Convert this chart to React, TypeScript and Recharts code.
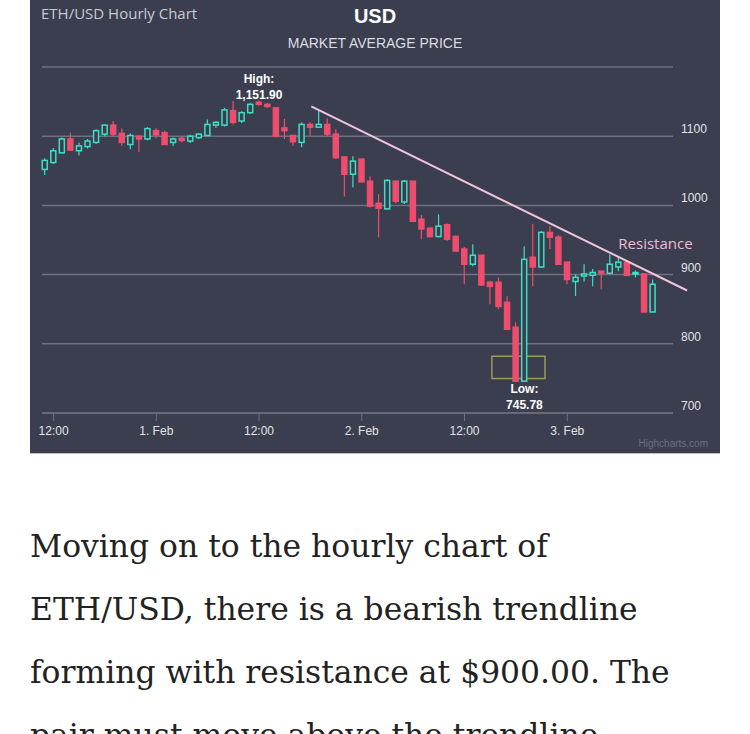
import React from "react";
import {
  ComposedChart,
  Bar,
  XAxis,
  YAxis,
  CartesianGrid,
  ReferenceLine,
  ReferenceDot,
  ReferenceArea,
} from "recharts";

// hourly candles, index 0 = 31 Jan 11:00
const hours = Array.from({ length: 72 }, (_, i) => i);
const opens = [
  1052, 1062, 1076, 1096, 1079, 1085, 1091, 1103, 1116, 1104, 1088, 1100, 1096, 1108, 1105, 1091, 1097, 1093,
  1098, 1101, 1116, 1116, 1137, 1122, 1134, 1149, 1146, 1141, 1112, 1101, 1091, 1117, 1113, 1117, 1103, 1070,
  1045, 1067, 1035, 1003, 995, 1035, 1005, 1035, 980, 967, 955, 972, 955, 937, 915, 928, 889, 889,
  860, 824, 746, 925, 911, 961, 954, 918, 890, 898, 899, 905, 902, 911, 918, 901, 901, 846,
];
const highs = [
  1068, 1083, 1098, 1105, 1091, 1096, 1110, 1117, 1122, 1111, 1104, 1100, 1113, 1112, 1108, 1098, 1099, 1102,
  1104, 1124, 1122, 1141, 1151, 1136, 1148, 1151.9, 1148, 1142, 1125, 1102, 1120, 1120, 1137, 1126, 1110, 1071,
  1071, 1067, 1042, 1016, 1038, 1035, 1037, 1035, 986, 968, 987, 974, 957, 940, 944, 928, 891, 896,
  869, 831, 941, 973, 963, 970, 957, 918, 900, 915, 908, 905, 929, 927, 921, 906, 901, 893,
];
const lows = [
  1044, 1060, 1075, 1079, 1072, 1082, 1089, 1100, 1100, 1086, 1081, 1077, 1094, 1097, 1088, 1086, 1091, 1090,
  1096, 1100, 1112, 1114, 1117, 1119, 1132, 1144, 1141, 1098, 1096, 1086, 1084, 1100, 1113, 1100, 1067, 1013,
  1026, 1034, 997, 954, 994, 1003, 1002, 977, 951, 954, 954, 949, 934, 886, 912, 884, 857, 850,
  821, 748, 745.78, 883, 910, 937, 915, 886, 869, 890, 883, 879, 901, 905, 899, 896, 846, 845,
];
const closes = [
  1065, 1079, 1096, 1080, 1086, 1093, 1108, 1116, 1103, 1091, 1101, 1096, 1111, 1102, 1088, 1096, 1094, 1100,
  1103, 1117, 1120, 1138, 1120, 1134, 1146, 1146, 1143, 1100, 1108, 1092, 1117, 1113, 1117, 1103, 1069, 1045,
  1064, 1034, 999, 996, 1036, 1006, 1035, 977, 966, 955, 970, 951, 934, 915, 928, 885, 883, 854,
  821, 746, 922, 911, 961, 954, 915, 893, 896, 901, 903, 902, 915, 918, 899, 903, 846, 886,
];

const xTicks = [1, 13, 25, 37, 49, 61];
const xTickLabels = ["12:00", "1. Feb", "12:00", "2. Feb", "12:00", "3. Feb"];
const yTicks = [700, 800, 900, 1000, 1100, 1200];

// trendline and annotations, in data units
const trendStart = { x: 31.1, y: 1143 };
const trendEnd = { x: 75, y: 877 };
const highPoint = { x: 25, y: 1151.9, label: "1,151.90" };
const lowPoint = { x: 56, y: 745.78, label: "745.78" };

const data = hours.map((t, i) => ({
  t,
  open: opens[i],
  high: highs[i],
  low: lows[i],
  close: closes[i],
  range: [lows[i], highs[i]],
}));

const UP = "#3de0c4";
const DOWN = "#ef4d6d";
const BG = "#3a3e4f";

const Candle = (props: any) => {
  const { x, y, width, height, payload } = props;
  const { open, close, high, low } = payload;
  const per = height / (high - low || 1);
  const yOf = (v: number) => y + (high - v) * per;
  const cx = x + width / 2;
  const up = close >= open;
  const top = yOf(Math.max(open, close));
  const bot = yOf(Math.min(open, close));
  const color = up ? UP : DOWN;
  return (
    <g>
      <line x1={cx} x2={cx} y1={y} y2={y + height} stroke={color} strokeWidth={1.2} />
      <rect
        x={x + 0.5}
        y={top}
        width={width - 1}
        height={Math.max(bot - top, 1.5)}
        fill={up ? BG : DOWN}
        stroke={color}
        strokeWidth={1.5}
      />
    </g>
  );
};

const YTick = ({ x, y, payload }: any) =>
  payload.value === 1200 ? null : (
    <text x={x} y={y - 3} fill="#e2e3e6" fontSize={12} fontFamily="Liberation Sans, Arial, sans-serif">
      {payload.value}
    </text>
  );

const HighLabel = ({ cx, cy }: any) => (
  <g fontFamily="Liberation Sans, Arial, sans-serif" fontSize={12} fontWeight="bold" fill="#ffffff" textAnchor="middle">
    <text x={cx} y={cy - 17}>High:</text>
    <text x={cx} y={cy - 1}>{highPoint.label}</text>
  </g>
);

const LowLabel = ({ cx, cy }: any) => (
  <g fontFamily="Liberation Sans, Arial, sans-serif" fontSize={12} fontWeight="bold" fill="#ffffff" textAnchor="middle">
    <text x={cx} y={cy + 12}>Low:</text>
    <text x={cx} y={cy + 28}>{lowPoint.label}</text>
  </g>
);

const ResistanceLabel = ({ cx, cy }: any) => (
  <text x={cx} y={cy + 5} textAnchor="middle" fill="#f3b9d6" fontSize={15} fontFamily="Open Sans, sans-serif">
    Resistance
  </text>
);

export default function App() {
  return (
    <div style={{ position: "absolute", left: 0, top: 0, width: 750, height: 734, background: "#fff", overflow: "hidden" }}>
      <div style={{ position: "absolute", left: 30, top: 0, width: 690, height: 453, background: BG, borderBottom: "1px solid #b9bfcc" }}>
        <div style={{ position: "absolute", left: 11, top: 3, color: "#c9cbd2", fontSize: 15, fontFamily: "Open Sans, sans-serif" }}>
          ETH/USD Hourly Chart
        </div>
        <div style={{ position: "absolute", left: 0, width: 690, top: 5, textAlign: "center", color: "#fff", fontSize: 20, fontWeight: "bold", fontFamily: "Liberation Sans, Arial, sans-serif" }}>
          USD
        </div>
        <div style={{ position: "absolute", left: 0, width: 690, top: 35, textAlign: "center", color: "#dcdde2", fontSize: 14, fontFamily: "Liberation Sans, Arial, sans-serif" }}>
          MARKET AVERAGE PRICE
        </div>
        <ComposedChart width={690} height={453} data={data} margin={{ top: 67, right: 0, left: 12, bottom: 0 }}>
          <CartesianGrid horizontal vertical={false} stroke="#6d7181" strokeWidth={1.5} />
          <XAxis
            type="number"
            dataKey="t"
            domain={[-0.35, 73.35]}
            ticks={xTicks}
            tickFormatter={(v) => xTickLabels[xTicks.indexOf(v)]}
            stroke="#6d7181"
            tickSize={8}
            tickMargin={5}
            height={40}
            tick={{ fill: "#e2e3e6", fontSize: 12, fontFamily: "Liberation Sans, Arial, sans-serif" }}
          />
          <YAxis
            orientation="right"
            domain={[700, 1200]}
            ticks={yTicks}
            width={47}
            axisLine={false}
            tickLine={false}
            tick={<YTick />}
          />
          <Bar dataKey="range" barSize={6} shape={<Candle />} isAnimationActive={false} />
          <ReferenceLine
            segment={[trendStart, trendEnd]}
            stroke="#f0c4dc"
            strokeWidth={2}
            ifOverflow="visible"
          />
          <ReferenceArea x1={52.2} x2={58.4} y1={750} y2={782} fill="none" stroke="#9c9c58" strokeWidth={1.5} ifOverflow="visible" />
          <ReferenceDot x={highPoint.x} y={highPoint.y} r={0} ifOverflow="visible" shape={<HighLabel />} />
          <ReferenceDot x={lowPoint.x} y={lowPoint.y} r={0} ifOverflow="visible" shape={<LowLabel />} />
          <ReferenceDot x={71.3} y={944} r={0} ifOverflow="visible" shape={<ResistanceLabel />} />
        </ComposedChart>
        <div style={{ position: "absolute", right: 12, top: 438, color: "#6c707e", fontSize: 10, fontFamily: "Liberation Sans, Arial, sans-serif" }}>
          Highcharts.com
        </div>
      </div>
      <div style={{ position: "absolute", left: 30, top: 515, width: 720, fontFamily: "DejaVu Serif, serif", fontSize: 31.4, lineHeight: "63px", color: "#222", whiteSpace: "nowrap" }}>
        Moving on to the hourly chart of
        <br />
        ETH/USD, there is a bearish trendline
        <br />
        forming with resistance at $900.00. The
        <br />
        pair must move above the trendline
      </div>
    </div>
  );
}
